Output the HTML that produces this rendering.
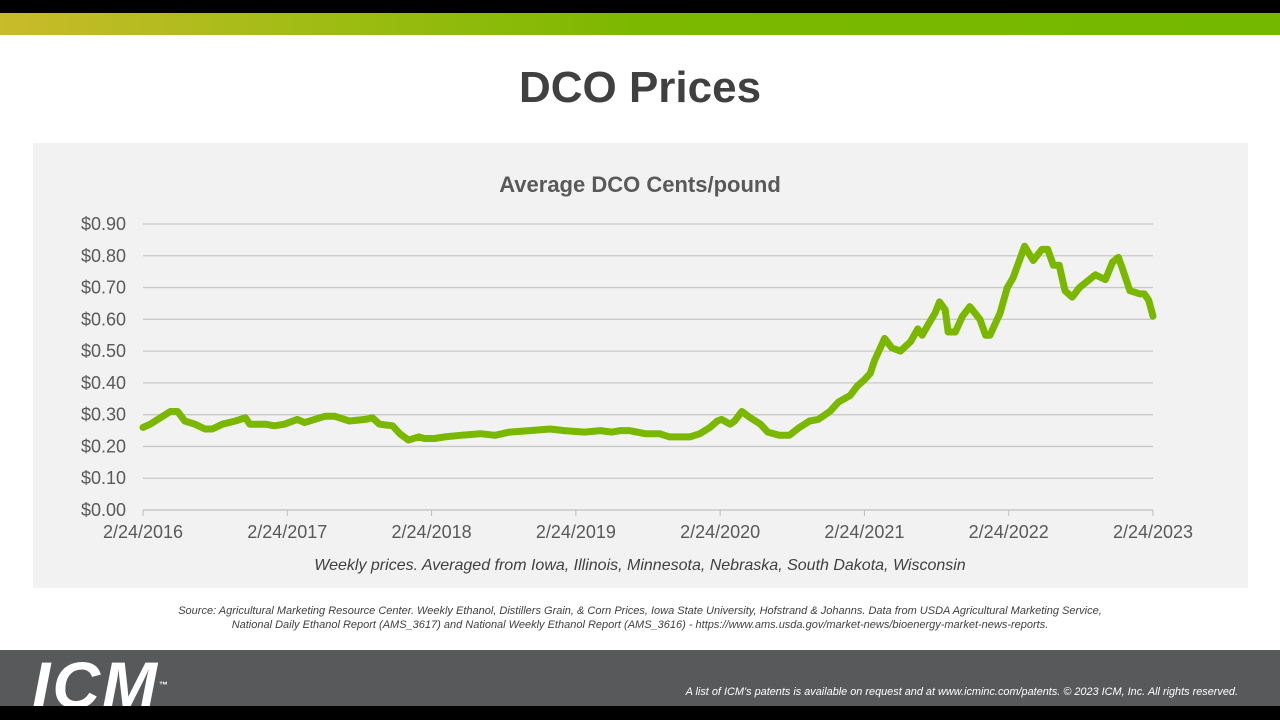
<!DOCTYPE html>
<html><head><meta charset="utf-8"><style>
body{margin:0;width:1280px;height:720px;overflow:hidden;background:#fff;font-family:"Liberation Sans",sans-serif;position:relative}
.abs{position:absolute}
</style></head><body>
<div class="abs" style="left:0;top:0;width:1280px;height:13px;background:#000"></div>
<div class="abs" style="left:0;top:13px;width:1280px;height:22px;background:linear-gradient(90deg,#c9bb2a 0%,#9fbc14 25%,#7cb800 50%,#74b800 100%)"></div>
<div class="abs" style="left:0;top:63px;width:1280px;text-align:center;font-size:44px;font-weight:bold;color:#404040">DCO Prices</div>
<div class="abs" style="left:33px;top:143px;width:1215px;height:445px;background:#f2f2f2"></div>
<svg class="abs" style="left:0;top:0" width="1280" height="720">
<text x="640" y="192" text-anchor="middle" font-size="22" font-weight="bold" fill="#595959">Average DCO Cents/pound</text>
<g id="grid"></g><g id="xt"></g><path id="line" fill="none" stroke="#7ab800" stroke-width="7" stroke-linejoin="round" stroke-linecap="round"/>
<text x="640" y="570" text-anchor="middle" font-size="16" font-style="italic" fill="#404040">Weekly prices. Averaged from Iowa, Illinois, Minnesota, Nebraska, South Dakota, Wisconsin</text>
</svg>
<div class="abs" style="left:0;top:604px;width:1280px;text-align:center;font-size:11px;font-style:italic;color:#404040;line-height:14px">Source: Agricultural Marketing Resource Center. Weekly Ethanol, Distillers Grain, &amp; Corn Prices, Iowa State University, Hofstrand &amp; Johanns. Data from USDA Agricultural Marketing Service,<br>National Daily Ethanol Report (AMS_3617) and National Weekly Ethanol Report (AMS_3616) - https://www.ams.usda.gov/market-news/bioenergy-market-news-reports.</div>
<div class="abs" style="left:0;top:650px;width:1280px;height:56px;background:#58595b"></div>
<div class="abs" style="left:0;top:706px;width:1280px;height:14px;background:#000"></div>
<div class="abs" style="left:32px;top:656px;font-size:66px;font-weight:900;font-style:italic;color:#fff;letter-spacing:2px;line-height:58px;height:50px;overflow:hidden">ICM<span style="font-size:9px;vertical-align:top;letter-spacing:0;font-style:normal">™</span></div>
<div class="abs" style="right:42px;top:686px;font-size:10.9px;font-style:italic;color:#fff">A list of ICM’s patents is available on request and at www.icminc.com/patents. © 2023 ICM, Inc. All rights reserved.</div>
<script>
const yTicks=[0,0.1,0.2,0.3,0.4,0.5,0.6,0.7,0.8,0.9];
const xTickLabels=["2/24/2016","2/24/2017","2/24/2018","2/24/2019","2/24/2020","2/24/2021","2/24/2022","2/24/2023"];
const yearsSinceStart=[0,.05,.12,.19,.24,.29,.36,.43,.48,.55,.64,.71,.74,.85,.91,.98,1.07,1.12,1.19,1.26,1.33,1.43,1.54,1.59,1.64,1.73,1.78,1.84,1.91,1.95,2.02,2.09,2.20,2.34,2.44,2.54,2.68,2.82,2.92,3.06,3.17,3.25,3.31,3.37,3.48,3.58,3.65,3.79,3.86,3.93,3.98,4.01,4.07,4.10,4.15,4.21,4.28,4.33,4.41,4.48,4.55,4.62,4.68,4.76,4.82,4.86,4.90,4.95,5.00,5.04,5.07,5.11,5.14,5.19,5.25,5.32,5.37,5.40,5.45,5.49,5.52,5.56,5.58,5.63,5.68,5.73,5.80,5.84,5.87,5.90,5.94,5.99,6.03,6.11,6.17,6.23,6.27,6.31,6.35,6.39,6.44,6.49,6.60,6.67,6.72,6.76,6.78,6.84,6.91,6.94,6.97,7.0];
const prices=[.26,.27,.29,.31,.31,.28,.27,.255,.255,.27,.28,.29,.27,.27,.265,.27,.285,.275,.285,.295,.295,.28,.285,.29,.27,.265,.24,.22,.23,.225,.225,.23,.235,.24,.235,.245,.25,.255,.25,.245,.25,.245,.25,.25,.24,.24,.23,.23,.24,.26,.28,.285,.27,.28,.31,.29,.27,.245,.235,.235,.26,.28,.285,.31,.34,.35,.36,.39,.41,.43,.47,.51,.54,.51,.50,.53,.57,.55,.59,.62,.655,.63,.56,.56,.61,.64,.60,.55,.55,.58,.62,.70,.73,.83,.785,.82,.82,.77,.77,.69,.67,.70,.74,.725,.78,.795,.77,.69,.68,.68,.66,.61,.575];
const X0=143,X1=1153,Y0=510,Y1=224;
const xs=v=>X0+v/7*(X1-X0), ys=v=>Y0-v/0.9*(Y0-Y1);
const NS="http://www.w3.org/2000/svg";
const grid=document.getElementById('grid'), xt=document.getElementById('xt');
yTicks.forEach(t=>{
 const l=document.createElementNS(NS,'line');
 l.setAttribute('x1',X0);l.setAttribute('x2',X1);l.setAttribute('y1',ys(t));l.setAttribute('y2',ys(t));
 l.setAttribute('stroke',t===0?'#bfbfbf':'#c9c9c9');l.setAttribute('stroke-width','1.3');
 
 
 grid.appendChild(l);
 const tx=document.createElementNS(NS,'text');
 tx.setAttribute('x',126);tx.setAttribute('y',ys(t)+6);tx.setAttribute('text-anchor','end');
 tx.setAttribute('font-size','18');tx.setAttribute('fill','#595959');
 tx.textContent='$'+t.toFixed(2);
 
 
 grid.appendChild(tx);
});
xTickLabels.forEach((s,i)=>{
 const l=document.createElementNS(NS,'line');
 l.setAttribute('x1',xs(i));l.setAttribute('x2',xs(i));l.setAttribute('y1',Y0);l.setAttribute('y2',Y0+6);
 l.setAttribute('stroke','#bfbfbf');
 
 
 xt.appendChild(l);
 const tx=document.createElementNS(NS,'text');
 tx.setAttribute('x',xs(i));tx.setAttribute('y',538);tx.setAttribute('text-anchor','middle');
 tx.setAttribute('font-size','18');tx.setAttribute('fill','#595959');
 tx.textContent=s;
 
 
 xt.appendChild(tx);
});
document.getElementById('line').setAttribute('d',yearsSinceStart.map((v,i)=>(i?'L':'M')+xs(v).toFixed(1)+','+ys(prices[i]).toFixed(1)).join(''));
</script>
</body></html>
